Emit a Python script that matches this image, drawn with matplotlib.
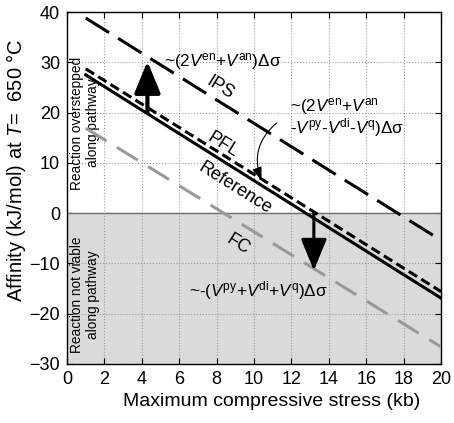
import numpy as np
import matplotlib
matplotlib.use("Agg")
import matplotlib.pyplot as plt

plt.rcParams["font.family"] = ["Liberation Sans", "DejaVu Sans"]
plt.rcParams["mathtext.fontset"] = "custom"
plt.rcParams["mathtext.rm"] = "Liberation Sans"
plt.rcParams["mathtext.it"] = "Liberation Sans:italic"

# ---------------------------------------------------------------------------
# Data
# ---------------------------------------------------------------------------
stress = [1, 20]                 # kb, line endpoints
ips = [38.8, -5.4]
pfl = [28.7, -15.6]
reference = [27.5, -16.9]
fc = [16.9, -26.6]

x_ticks = list(range(0, 21, 2))
y_ticks = list(range(-30, 41, 10))

up_arrow = ([4.3, 20.1], [4.3, 30.2])     # (from, to)
down_arrow = ([13.2, 0.1], [13.2, -11.4])
thin_arrow = ([11.2, 17.9], [10.4, 6.5])

fig = plt.figure(figsize=(4.54, 4.23), dpi=100)
ax = fig.add_axes([0.1476, 0.1395, 0.8238, 0.8321])
ax.set_xlim(0, 20)
ax.set_ylim(-30, 40)

ax.axhspan(-30, 0, color="#dadada", zorder=0)
ax.axhline(0, color="#707070", lw=1.0, zorder=1)
ax.grid(True, linestyle=":", color="#9a9a9a", lw=0.8, zorder=1)
ax.set_axisbelow(True)

ax.plot(stress, ips, color="black", lw=2.2, dashes=(9, 3.5), zorder=3)
ax.plot(stress, reference, color="black", lw=2.2, zorder=3)
ax.plot(stress, pfl, color="black", lw=2.2, dashes=(3.2, 1.6), zorder=3)
ax.plot(stress, fc, color="#999999", lw=2.2, dashes=(8, 4), zorder=3)

ax.set_xticks(x_ticks)
ax.set_yticks(y_ticks)
ax.tick_params(direction="in", labelsize=13, length=4, pad=5,
               top=True, right=True)
for s in ax.spines.values():
    s.set_linewidth(1.0)

ax.set_xlabel("Maximum compressive stress (kb)", fontsize=14)
ax.set_ylabel(r"Affinity (kJ/mol) at $T$=  650 °C", fontsize=14.5)
ax.xaxis.set_label_coords(0.547, -0.082)
ax.yaxis.set_label_coords(-0.103, 0.552)

# arrows
ax.annotate("", xy=up_arrow[1], xytext=up_arrow[0],
            arrowprops=dict(arrowstyle="-|>,head_width=0.8,head_length=1.95",
                            lw=3, color="black", shrinkA=0, shrinkB=0),
            zorder=4)
ax.annotate("", xy=down_arrow[1], xytext=down_arrow[0],
            arrowprops=dict(arrowstyle="-|>,head_width=0.8,head_length=1.95",
                            lw=2.2, color="black", shrinkA=0, shrinkB=0),
            zorder=4)
ax.annotate("", xy=thin_arrow[1], xytext=thin_arrow[0],
            arrowprops=dict(arrowstyle="-|>,head_width=0.3,head_length=0.8",
                            lw=0.8, color="black", shrinkA=0, shrinkB=0,
                            connectionstyle="arc3,rad=0.35"),
            zorder=4)

# line angle in display space for the rotated labels
fig.canvas.draw()
p0 = ax.transData.transform((stress[0], reference[0]))
p1 = ax.transData.transform((stress[1], reference[1]))
angle = np.degrees(np.arctan2(p1[1] - p0[1], p1[0] - p0[0]))

fs = 12.3
ax.text(5.2, 30.2, r"~(2$V^{\mathrm{en}}$+$V^{\mathrm{an}}$)Δσ", fontsize=fs,
        ha="left", va="center")
ax.text(8.2, 25.0, "IPS", fontsize=13, rotation=angle, ha="center", va="center")
ax.text(11.9, 21.2, r"~(2$V^{\mathrm{en}}$+$V^{\mathrm{an}}$", fontsize=fs,
        ha="left", va="center")
ax.text(11.9, 17.1, r"-$V^{\mathrm{py}}$-$V^{\mathrm{di}}$-$V^{\mathrm{q}}$)Δσ",
        fontsize=fs, ha="left", va="center")
ax.text(8.35, 13.6, "PFL", fontsize=13, rotation=angle, ha="center", va="center")
ax.text(9.0, 5.0, "Reference", fontsize=13, rotation=angle,
        ha="center", va="center")
ax.text(9.15, -6.3, "FC", fontsize=13, rotation=angle, ha="center", va="center")
ax.text(6.5, -15.3, r"~-($V^{\mathrm{py}}$+$V^{\mathrm{di}}$+$V^{\mathrm{q}}$)Δσ",
        fontsize=fs, ha="left", va="center")

ax.text(0.96, 17.9, "Reaction overstepped\nalong pathway", fontsize=9.8,
        rotation=90, ha="center", va="center", linespacing=1.15, zorder=2)
ax.text(0.96, -16.2, "Reaction not viable\nalong pathway", fontsize=9.8,
        rotation=90, ha="center", va="center", linespacing=1.15, zorder=2)

fig.savefig("out.png", dpi=100)
